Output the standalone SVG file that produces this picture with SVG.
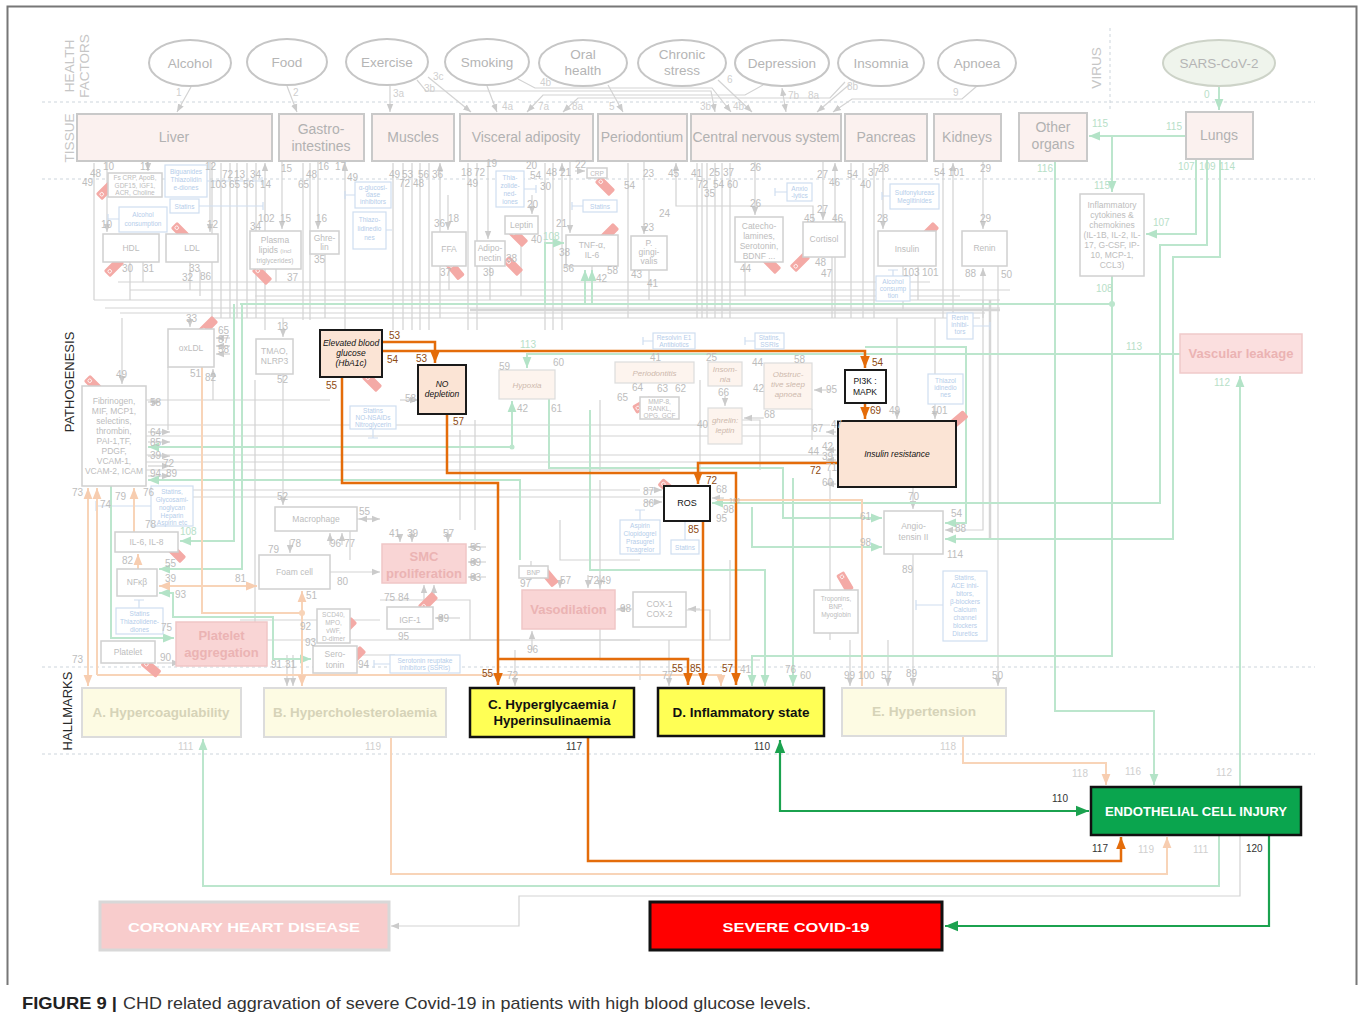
<svg xmlns="http://www.w3.org/2000/svg" width="1360" height="1022" viewBox="0 0 1360 1022">
<style>
text{font-family:"Liberation Sans",Arial,sans-serif}
.sec{font-size:13.5px;fill:#c6c6c6}
.secd{font-size:13px;fill:#2a2a2a}
.hf{fill:#fff;stroke:#c6c6c6;stroke-width:2}
.hft{font-size:13.5px;fill:#b5b5b5;text-anchor:middle}
.ts{fill:#fbf1ef;stroke:#c9c9c9;stroke-width:2}
.tst{font-size:14px;fill:#b2b2b2;text-anchor:middle}
.bx{fill:#fff;stroke:#d0d0d0;stroke-width:1.5}
.bxt{font-size:8.5px;fill:#bdbdbd;text-anchor:middle}
.sm{font-size:6.5px}
.bl{fill:#fff;stroke:#cfdef0;stroke-width:1.2}
.blt{font-size:6.5px;fill:#b5cdea;text-anchor:middle}
.pk{fill:#f9d5d5;stroke:#f0c6c6;stroke-width:1.5}
.pkt{font-weight:bold;font-size:13px;fill:#ebb3b3;text-anchor:middle}
.pc{fill:#fdf4ee;stroke:#dcdcdc;stroke-width:1.2}
.pct{font-size:8px;font-style:italic;fill:#cdb9ad;text-anchor:middle}
.n{font-size:10px;fill:#bdbdbd}
.nf{font-size:10px;fill:#cfcfcf}
.no{font-size:10px;fill:#8e4a10}
.nd{font-size:10px;fill:#333}
.ngl{font-size:10px;fill:#b7e0c8}
.g{fill:none;stroke:#d3d3d3;stroke-width:1.2}
.lg{fill:none;stroke:#bce6cd;stroke-width:2}
.lo{fill:none;stroke:#f8d4b8;stroke-width:2}
.or{fill:none;stroke:#e46c0a;stroke-width:2.5}
.gr{fill:none;stroke:#1ba24f;stroke-width:2.2}
.blu{fill:none;stroke:#cfdef0;stroke-width:1.2}
.dash{fill:none;stroke:#cdd5dc;stroke-width:1;stroke-dasharray:3 3}
.hm{font-weight:bold;font-size:13px;text-anchor:middle}
</style>
<defs>
<marker id="ag" viewBox="0 0 10 10" refX="10" refY="5" markerUnits="userSpaceOnUse" markerWidth="8" markerHeight="8" orient="auto-start-reverse"><path d="M0,1L10,5L0,9z" fill="#cbcbcb"/></marker>
<marker id="ao" viewBox="0 0 10 10" refX="10" refY="5" markerUnits="userSpaceOnUse" markerWidth="12" markerHeight="12" orient="auto-start-reverse"><path d="M0,1L10,5L0,9z" fill="#e46c0a"/></marker>
<marker id="agr" viewBox="0 0 10 10" refX="10" refY="5" markerUnits="userSpaceOnUse" markerWidth="13" markerHeight="13" orient="auto-start-reverse"><path d="M0,1L10,5L0,9z" fill="#1ba24f"/></marker>
<marker id="alg" viewBox="0 0 10 10" refX="10" refY="5" markerUnits="userSpaceOnUse" markerWidth="11" markerHeight="11" orient="auto-start-reverse"><path d="M0,1L10,5L0,9z" fill="#b3e3c7"/></marker>
<marker id="alo" viewBox="0 0 10 10" refX="10" refY="5" markerUnits="userSpaceOnUse" markerWidth="11" markerHeight="11" orient="auto-start-reverse"><path d="M0,1L10,5L0,9z" fill="#f7cdb0"/></marker>
<g id="tag"><rect x="-10" y="-4.5" width="20" height="9" rx="1.5" fill="#f4aaa6"/><circle cx="-6" cy="0" r="1.8" fill="none" stroke="#fff" stroke-width="0.8"/></g>
</defs>

<!-- frame -->
<path d="M7.5,985V6.5H1356.5V985" fill="none" stroke="#777" stroke-width="2"/>

<!-- section separators -->
<g id="sections">
<path class="dash" d="M42,102H1315M42,179H1315M42,667H1315M42,754H1315M1110,28V110"/>
<text class="sec" transform="translate(74,66) rotate(-90)" text-anchor="middle">HEALTH</text>
<text class="sec" transform="translate(89,66) rotate(-90)" text-anchor="middle">FACTORS</text>
<text class="sec" transform="translate(74,138) rotate(-90)" text-anchor="middle">TISSUE</text>
<text class="secd" transform="translate(74,382) rotate(-90)" text-anchor="middle">PATHOGENESIS</text>
<text class="secd" transform="translate(72,711) rotate(-90)" text-anchor="middle">HALLMARKS</text>
<text class="sec" transform="translate(1101,68) rotate(-90)" text-anchor="middle">VIRUS</text>
</g>

<g id="connectors">
<!-- health factor to tissue -->
<g marker-end="url(#ag)">
<path class="g" d="M191,87L177,112"/>
<path class="g" d="M287,86L297,112"/>
<path class="g" d="M390,86V112"/>
<path class="g" d="M417,80L426,91H711L715,112"/>
<path class="g" d="M428,77L471,112"/>
<path class="g" d="M487,86L497,112"/>
<path class="g" d="M518,79L535,88H712L731,112"/>
<path class="g" d="M608,85L623,112"/>
<path class="g" d="M718,80L752,112"/>
<path class="g" d="M763,85L745,95H543L527,112"/>
<path class="g" d="M782,88L786,112" marker-start="url(#ag)"/>
<path class="g" d="M845,82L830,98H578L563,112"/>
<path class="g" d="M850,84L817,112"/>
<path class="g" d="M977,86L962,99H852L833,112"/>
</g>
<path class="lg" d="M1219,86V110" marker-end="url(#alg)"/>

<!-- tissue verticals (arrows up into tissue) -->
<g marker-end="url(#ag)">
<path class="g" d="M94,300V163M212,318V163M221,318V163M230,318V163M237,318V163M247,318V163M256,318V163M265,330V163"/>
<path class="g" d="M303,320V163M310,320V163M345,330V163"/>
<path class="g" d="M393,330V163M403,330V163M412,330V163M420,330V163M429,330V163M440,318V163"/>
<path class="g" d="M468,330V163M477,330V163M545,330V163M553,330V163M562,330V163"/>
<path class="g" d="M628,318V163M697,318V163M702,318V163M707,318V163M715,318V163M722,318V163M730,318V163M835,318V163"/>
<path class="g" d="M851,318V163M863,318V163M874,318V163M943,318V163M953,318V163"/>
<path class="g" d="M813,222V206H676V163"/>
<path class="g" d="M107,161V232"/><path class="g" d="M148,161V171"/><path class="g" d="M210,161V232"/>
<path class="g" d="M282,161V229"/><path class="g" d="M318,161V229"/>
<path class="g" d="M448,195V230"/><path class="g" d="M488,161V239"/><path class="g" d="M532,195V214"/>
<path class="g" d="M570,161V233"/><path class="g" d="M575,171H585"/>
<path class="g" d="M644,161V234"/><path class="g" d="M755,161V215"/><path class="g" d="M823,161V220"/>
<path class="g" d="M883,161V229"/><path class="g" d="M983,161V229"/>
<path class="g" d="M983,318V268"/>
<path class="g" d="M122,318V384"/><path class="g" d="M190,318V327"/><path class="g" d="M283,318V337"/>
<path class="g" d="M283,374V505"/><path class="g" d="M213,400V369"/>
<path class="g" d="M897,318V419"/><path class="g" d="M935,318V419"/>
<path class="g" d="M913,487V509"/>
<path class="g" d="M983,300V530H945"/>
<path class="g" d="M998,266V686"/><path class="g" d="M913,554V686"/>
<path class="g" d="M888,640V686"/><path class="g" d="M850,640V686"/>
<path class="g" d="M287,655V686"/><path class="g" d="M293,655V686"/>
<path class="g" d="M515,650V686"/><path class="g" d="M669,640V686"/>
<path class="g" d="M357,519H380"/><path class="g" d="M330,572H380"/>
<path class="g" d="M424,600V585"/><path class="g" d="M434,600V585"/>
<path class="g" d="M486,547H468"/><path class="g" d="M486,562H468"/><path class="g" d="M486,577H468"/>
<path class="g" d="M460,618H435"/><path class="g" d="M632,609H617"/><path class="g" d="M700,609H688"/>
<path class="g" d="M400,535V542"/><path class="g" d="M412,530V542"/><path class="g" d="M448,530V542"/>
<path class="g" d="M290,540V553"/><path class="g" d="M330,545V533"/><path class="g" d="M342,545V533"/>
<path class="g" d="M560,580V588"/><path class="g" d="M588,575V588"/><path class="g" d="M600,575V588"/>
<path class="g" d="M532,650V631"/><path class="g" d="M531,561V580"/>
<path class="g" d="M148,402H160"/><path class="g" d="M148,432H170"/><path class="g" d="M148,442H170"/><path class="g" d="M148,456H170"/><path class="g" d="M148,466H170"/><path class="g" d="M148,476H170"/>
<path class="g" d="M230,338H216"/><path class="g" d="M230,346H216"/><path class="g" d="M230,354H216"/>
<path class="g" d="M400,400H418"/><path class="g" d="M372,519H359"/>
<path class="g" d="M836,432H826"/><path class="g" d="M836,450H826"/><path class="g" d="M836,460H826"/><path class="g" d="M836,484H826"/>
<path class="g" d="M830,390H814"/>
<path class="g" d="M725,396V406"/><path class="g" d="M764,418H744"/>
<path class="g" d="M645,490H662"/><path class="g" d="M645,502H662"/>
<path class="g" d="M724,498H712"/>
<path class="g" d="M157,663H180"/>
</g>
<!-- gray buses -->
<path class="g" d="M94,300H1000M118,282H930M130,290H1010M255,296H960M212,318H980M105,308H1000M120,313H985"/>
<path class="g" d="M146,400H330M146,425H830M146,436H838M146,455H838M146,462H838M146,470H660M170,497H664M190,490H640"/>
<path class="g" d="M350,520V560M168,367V430M255,380V640H315M240,620H380M356,655H395M340,640H520M380,600H470V640"/>
<path class="g" d="M460,430V520M475,420V530M600,400V470M700,380V480M742,420H760V470M812,409V440M830,470V640"/>
<path class="g" d="M560,520V560H640M686,610H710V640M730,560V640H560M616,610H625"/>
<path class="g" d="M130,255V300M143,262V282M190,262V290M200,270V296"/>
<path class="g" d="M276,269V282M325,254V318M449,266V290M490,266V300M521,234V296M592,266V282M649,270V300"/>
<path class="g" d="M745,262V296M832,257V318M903,266V310M918,266V300"/>
<path stroke="#d6d6d6" stroke-width="2.5" fill="none" d="M470,310H1000M990,300V540"/>
<path class="g" d="M600,480V660H760M460,640H640M640,660V680"/>
<path class="g" d="M1240,835V896H519V926H391" marker-end="url(#ag)"/>

<!-- blue inhibitor lines -->
<path class="blu" d="M207,181H262M262,177V185M199,206H263M263,202V210M119,219H108M108,214V224M355,195H345M345,191V199M386,230H392M524,189H536M536,185V193M583,206H572M572,202V210M787,192H775M775,188V196M890,196H882M882,192V200M893,276V270M888,270H898M653,341H643M643,337V345M755,341H745M745,337V345M973,326H990M990,322V330M943,605H916M916,600V610M163,506H96M96,501V511M139,608V600M134,600H144M640,520V510M635,510H645M685,540V520M390,664H374M374,660V668M373,429V438M368,438H378"/>

<!-- light green -->
<path class="lg" d="M1186,136H1089" marker-end="url(#alg)"/>
<path class="lg" d="M1112,136V192" marker-end="url(#alg)"/>
<path class="lg" d="M1196,159V234H1146" marker-end="url(#alg)"/>
<path class="lg" d="M1207,159V245H1160V503H712" marker-end="url(#alg)"/>
<path class="lg" d="M1220,159V257H1173V539H945" marker-end="url(#alg)"/>
<path class="lg" d="M1112,276V656H752V686" marker-end="url(#alg)"/>
<path class="lg" d="M1112,304H240"/>
<path class="lg" d="M1180,354H527V368" marker-end="url(#alg)"/>
<path class="lg" d="M545,304V243H564" marker-end="url(#alg)"/>
<path class="lg" stroke-width="3" d="M585,304V270" marker-end="url(#alg)"/>
<path class="lg" stroke-width="3" d="M592,304V270" marker-end="url(#alg)"/>
<path class="lg" d="M234,304V541H180" marker-end="url(#alg)"/>
<path class="lg" d="M242,304V569H159" marker-end="url(#alg)"/>
<path class="lg" d="M512,447H148" marker-end="url(#alg)"/>
<path class="lg" d="M512,447V401" marker-end="url(#alg)"/>
<path class="lg" d="M520,560V480H148" marker-end="url(#alg)"/>
<path class="lg" d="M111,486V638H174" marker-end="url(#alg)"/>
<path class="lg" d="M159,593H173V617H273V659H311" marker-start="url(#alg)" marker-end="url(#alg)"/>
<path class="lg" d="M549,399V468H783V518H882" marker-end="url(#alg)"/>
<path class="lg" d="M752,507V547H882" marker-end="url(#alg)"/>
<path class="lg" d="M590,410V570H765V686" marker-end="url(#alg)"/>
<path class="lg" d="M793,478V686" marker-end="url(#alg)"/>
<path class="lg" d="M865,347H966V523H945" marker-end="url(#alg)"/>
<path class="lg" d="M1055,161V711H1154V785" marker-end="url(#alg)"/>
<path class="lg" d="M1240,787V376" marker-end="url(#alg)"/>
<path class="lg" d="M1219,835V886H203V739" marker-end="url(#alg)"/>

<!-- light orange -->
<path class="lo" d="M97,675H721V686" marker-end="url(#alo)"/>
<path class="lo" d="M88,675V488" marker-end="url(#alo)"/>
<path class="lo" d="M88,675V686" marker-end="url(#alo)"/>
<path class="lo" d="M97,675V488" marker-end="url(#alo)"/>
<path class="lo" d="M134,532V488" marker-end="url(#alo)"/>
<path class="lo" d="M138,569V554" marker-end="url(#alo)"/>
<path class="lo" d="M159,586H257" marker-start="url(#alo)" marker-end="url(#alo)"/>
<path class="lo" d="M202,367V613H302"/>
<path class="lo" d="M302,675V591" marker-end="url(#alo)"/>
<path class="lo" d="M302,675V686" marker-end="url(#alo)"/>
<path class="lo" stroke-width="1.2" d="M717,500H862V686"/>
<path class="lo" d="M963,737V763H1106V785" marker-end="url(#alo)"/>
<path class="lo" d="M391,737V874H1167V837" marker-end="url(#alo)"/>
<circle cx="302" cy="613" r="3" fill="#f8d4b8"/>
<circle cx="1112" cy="304" r="3" fill="#bce6cd"/>
<circle cx="512" cy="447" r="2.5" fill="#bce6cd"/>

<!-- orange highlighted path -->
<path class="or" d="M382,342H435V363" marker-end="url(#ao)"/>
<path class="or" d="M382,351H865V368" marker-end="url(#ao)"/>
<path class="or" d="M342,377V483H498V685" marker-end="url(#ao)"/>
<path class="or" d="M498,659H688V685" marker-end="url(#ao)"/>
<path class="or" d="M447,414V473H736V685" marker-end="url(#ao)"/>
<path class="or" d="M838,463H698V484" marker-end="url(#ao)"/>
<path class="or" d="M703,521V685" marker-end="url(#ao)"/>
<path class="or" d="M865,403V419" marker-end="url(#ao)"/>
<path class="or" d="M588,737V861H1121V837" marker-end="url(#ao)"/>

<!-- strong green -->
<path class="gr" d="M780,740V811H1089" marker-start="url(#agr)" marker-end="url(#agr)"/>
<path class="gr" d="M1269,835V926H945" marker-end="url(#agr)"/>
</g>

<!-- inhibition tags -->
<g id="tags">
<use href="#tag" transform="translate(106,190) rotate(-45)"/>
<use href="#tag" transform="translate(181,232) rotate(45)"/>
<use href="#tag" transform="translate(114,267) rotate(-45)"/>
<use href="#tag" transform="translate(262,275) rotate(45)"/>
<use href="#tag" transform="translate(455,270) rotate(50)"/>
<use href="#tag" transform="translate(518,237) rotate(45)"/>
<use href="#tag" transform="translate(513,266) rotate(45)"/>
<use href="#tag" transform="translate(609,233) rotate(-45)"/>
<use href="#tag" transform="translate(605,186) rotate(45)"/>
<use href="#tag" transform="translate(771,264) rotate(45)"/>
<use href="#tag" transform="translate(800,262) rotate(-45)"/>
<use href="#tag" transform="translate(929,232) rotate(-45)"/>
<use href="#tag" transform="translate(208,326) rotate(-45)"/>
<use href="#tag" transform="translate(94,385) rotate(45)"/>
<use href="#tag" transform="translate(372,382) rotate(45)"/>
<use href="#tag" transform="translate(176,553) rotate(45)"/>
<use href="#tag" transform="translate(151,668) rotate(40)"/>
<use href="#tag" transform="translate(347,627) rotate(-45)"/>
<use href="#tag" transform="translate(356,656) rotate(-45)"/>
<use href="#tag" transform="translate(428,602) rotate(-45)"/>
<use href="#tag" transform="translate(643,405) rotate(-30)"/>
<use href="#tag" transform="translate(668,488) rotate(40)"/>
<use href="#tag" transform="translate(549,577) rotate(50)"/>
<use href="#tag" transform="translate(845,582) rotate(60)"/>
<use href="#tag" transform="translate(958,420) rotate(-40)"/>
</g>

<!-- health factors -->
<g id="alcohol"><ellipse class="hf" cx="190" cy="63" rx="41" ry="23"/><text class="hft" x="190" y="68">Alcohol</text></g>
<g id="food"><ellipse class="hf" cx="287" cy="62" rx="40" ry="23"/><text class="hft" x="287" y="67">Food</text></g>
<g id="exercise"><ellipse class="hf" cx="387" cy="62" rx="41" ry="23"/><text class="hft" x="387" y="67">Exercise</text></g>
<g id="smoking"><ellipse class="hf" cx="487" cy="62" rx="42" ry="23"/><text class="hft" x="487" y="67">Smoking</text></g>
<g id="oral-health"><ellipse class="hf" cx="583" cy="63" rx="44" ry="23"/><text class="hft" x="583" y="59">Oral</text><text class="hft" x="583" y="75">health</text></g>
<g id="chronic-stress"><ellipse class="hf" cx="682" cy="63" rx="44" ry="23"/><text class="hft" x="682" y="59">Chronic</text><text class="hft" x="682" y="75">stress</text></g>
<g id="depression"><ellipse class="hf" cx="782" cy="63" rx="47" ry="23"/><text class="hft" x="782" y="68">Depression</text></g>
<g id="insomnia"><ellipse class="hf" cx="881" cy="63" rx="43" ry="23"/><text class="hft" x="881" y="68">Insomnia</text></g>
<g id="apnoea"><ellipse class="hf" cx="977" cy="63" rx="39" ry="23"/><text class="hft" x="977" y="68">Apnoea</text></g>
<g id="sars-cov-2"><ellipse cx="1219" cy="63" rx="56" ry="23" fill="#eff4ec" stroke="#cdd3c8" stroke-width="2"/><text class="hft" x="1219" y="68">SARS-CoV-2</text></g>

<!-- tissues -->
<g id="liver"><rect class="ts" x="77" y="114" width="195" height="47"/><text class="tst" x="174" y="142">Liver</text></g>
<g id="gastro"><rect class="ts" x="279" y="114" width="85" height="47"/><text class="tst" x="321" y="134">Gastro-</text><text class="tst" x="321" y="151">intestines</text></g>
<g id="muscles"><rect class="ts" x="372" y="114" width="82" height="47"/><text class="tst" x="413" y="142">Muscles</text></g>
<g id="visceral"><rect class="ts" x="460" y="114" width="133" height="47"/><text class="tst" x="526" y="142">Visceral adiposity</text></g>
<g id="periodontium"><rect class="ts" x="598" y="114" width="89" height="47"/><text class="tst" x="642" y="142">Periodontium</text></g>
<g id="cns"><rect class="ts" x="691" y="114" width="150" height="47"/><text class="tst" x="766" y="142">Central nervous system</text></g>
<g id="pancreas"><rect class="ts" x="845" y="114" width="82" height="47"/><text class="tst" x="886" y="142">Pancreas</text></g>
<g id="kidneys"><rect class="ts" x="934" y="114" width="67" height="47"/><text class="tst" x="967" y="142">Kidneys</text></g>
<g id="other-organs"><rect class="ts" x="1019" y="113" width="68" height="48"/><text class="tst" x="1053" y="132">Other</text><text class="tst" x="1053" y="149">organs</text></g>
<g id="lungs"><rect class="ts" x="1186" y="112" width="67" height="47"/><text class="tst" x="1219" y="140">Lungs</text></g>

<!-- pathogenesis faded nodes -->
<g id="fs-crp"><rect class="bx" x="108" y="173" width="54" height="24"/><text class="bxt sm" x="135" y="180">Fs CRP, ApoB,</text><text class="bxt sm" x="135" y="187.5">GDF15, IGF1,</text><text class="bxt sm" x="135" y="195">ACR, Choline</text></g>
<g id="biguanides"><rect class="bl" x="165" y="165" width="42" height="32"/><text class="blt" x="186" y="174">Biguanides</text><text class="blt" x="186" y="182">Thiazolidin</text><text class="blt" x="186" y="190">e-diones</text></g>
<g id="statins-1"><rect class="bl" x="170" y="199" width="29" height="14"/><text class="blt" x="184.5" y="208.5">Statins</text></g>
<g id="alcohol-consumption-1"><rect class="bl" x="119" y="207" width="48" height="25"/><text class="blt" x="143" y="217">Alcohol</text><text class="blt" x="143" y="226">consumption</text></g>
<g id="hdl"><rect class="bx" x="103" y="234" width="56" height="28"/><text class="bxt" x="131" y="251">HDL</text></g>
<g id="ldl"><rect class="bx" x="166" y="234" width="52" height="28"/><text class="bxt" x="192" y="251">LDL</text></g>
<g id="plasma-lipids"><rect class="bx" x="250" y="231" width="51" height="38"/><text class="bxt" x="275" y="243">Plasma</text><text class="bxt" x="275" y="253">lipids <tspan font-size="6">(incl</tspan></text><text class="bxt sm" x="275" y="263">triglycerides)</text></g>
<g id="ghrelin"><rect class="bx" x="310" y="231" width="29" height="23"/><text class="bxt" x="324.5" y="241">Ghre-</text><text class="bxt" x="324.5" y="250">lin</text></g>
<g id="a-glucosidase"><rect class="bl" x="355" y="182" width="36" height="26"/><text class="blt" x="373" y="190">α-glucosi-</text><text class="blt" x="373" y="197">dase</text><text class="blt" x="373" y="204">inhibitors</text></g>
<g id="thiazo-1"><rect class="bl" x="353" y="212" width="33" height="37"/><text class="blt" x="369.5" y="222">Thiazo-</text><text class="blt" x="369.5" y="231">lidinedio</text><text class="blt" x="369.5" y="240">nes</text></g>
<g id="ffa"><rect class="bx" x="432" y="232" width="34" height="34"/><text class="bxt" x="449" y="252">FFA</text></g>
<g id="adiponectin"><rect class="bx" x="475" y="241" width="30" height="25"/><text class="bxt" x="490" y="251">Adipo-</text><text class="bxt" x="490" y="261">nectin</text></g>
<g id="leptin"><rect class="bx" x="505" y="216" width="33" height="18"/><text class="bxt" x="521.5" y="228">Leptin</text></g>
<g id="thiazo-2"><rect class="bl" x="496" y="171" width="28" height="36"/><text class="blt" x="510" y="180">Thia-</text><text class="blt" x="510" y="188">zolide-</text><text class="blt" x="510" y="196">ned-</text><text class="blt" x="510" y="204">iones</text></g>
<g id="crp"><rect class="bx" x="587" y="168" width="20" height="10"/><text class="bxt sm" x="597" y="176">CRP</text></g>
<g id="statins-2"><rect class="bl" x="583" y="200" width="34" height="12"/><text class="blt" x="600" y="208.5">Statins</text></g>
<g id="tnf"><rect class="bx" x="566" y="235" width="52" height="31"/><text class="bxt" x="592" y="248">TNF-α,</text><text class="bxt" x="592" y="258">IL-6</text></g>
<g id="p-gingivalis"><rect class="bx" x="631" y="236" width="36" height="34"/><text class="bxt" x="649" y="246">P.</text><text class="bxt" x="649" y="255">gingi-</text><text class="bxt" x="649" y="264">valis</text></g>
<g id="anxiolytics"><rect class="bl" x="787" y="183" width="25" height="18"/><text class="blt" x="799.5" y="191">Anxio</text><text class="blt" x="799.5" y="198">-lytics</text></g>
<g id="catecholamines"><rect class="bx" x="735" y="217" width="48" height="45"/><text class="bxt" x="759" y="229">Catecho-</text><text class="bxt" x="759" y="239">lamines,</text><text class="bxt" x="759" y="249">Serotonin,</text><text class="bxt" x="759" y="259">BDNF ...</text></g>
<g id="cortisol"><rect class="bx" x="803" y="222" width="42" height="35"/><text class="bxt" x="824" y="242">Cortisol</text></g>
<g id="sulfonylureas"><rect class="bl" x="890" y="184" width="49" height="25"/><text class="blt" x="914.5" y="195">Sulfonylureas</text><text class="blt" x="914.5" y="203">Meglitinides</text></g>
<g id="insulin"><rect class="bx" x="878" y="231" width="58" height="35"/><text class="bxt" x="907" y="252">Insulin</text></g>
<g id="alcohol-consumption-2"><rect class="bl" x="876" y="276" width="34" height="25"/><text class="blt" x="893" y="284">Alcohol</text><text class="blt" x="893" y="291">consump</text><text class="blt" x="893" y="298">tion</text></g>
<g id="renin"><rect class="bx" x="962" y="231" width="45" height="35"/><text class="bxt" x="984.5" y="251">Renin</text></g>
<g id="cytokines"><rect class="bx" x="1080" y="194" width="64" height="82"/>
<text class="bxt" font-size="7.5" x="1112" y="208">Inflammatory</text><text class="bxt" font-size="7.5" x="1112" y="218">cytokines &amp;</text><text class="bxt" font-size="7.5" x="1112" y="228">chemokines</text><text class="bxt" font-size="7.5" x="1112" y="238">(IL-1B, IL-2, IL-</text><text class="bxt" font-size="7.5" x="1112" y="248">17, G-CSF, IP-</text><text class="bxt" font-size="7.5" x="1112" y="258">10, MCP-1,</text><text class="bxt" font-size="7.5" x="1112" y="268">CCL3)</text></g>

<g id="oxldl"><rect class="bx" x="168" y="329" width="46" height="38"/><text class="bxt" x="191" y="351">oxLDL</text></g>
<g id="tmao"><rect class="bx" x="256" y="339" width="37" height="35"/><text class="bxt" x="274.5" y="354">TMAO,</text><text class="bxt" x="274.5" y="364">NLRP3</text></g>
<g id="fibrinogen"><rect class="bx" x="82" y="386" width="64" height="100"/>
<text class="bxt" x="114" y="404">Fibrinogen,</text><text class="bxt" x="114" y="414">MIF, MCP1,</text><text class="bxt" x="114" y="424">selectins,</text><text class="bxt" x="114" y="434">thrombin,</text><text class="bxt" x="114" y="444">PAI-1,TF,</text><text class="bxt" x="114" y="454">PDGF,</text><text class="bxt" x="114" y="464">VCAM-1,</text><text class="bxt" x="114" y="474">VCAM-2, ICAM</text></g>
<g id="statins-no-nsaids"><rect class="bl" x="350" y="406" width="46" height="23"/><text class="blt" x="373" y="413">Statins</text><text class="blt" x="373" y="420">NO-NSAIDs</text><text class="blt" x="373" y="427">Nitroglycerin</text></g>
<g id="statins-heparin"><rect class="bl" x="151" y="486" width="42" height="40"/><text class="blt" x="172" y="494">Statins,</text><text class="blt" x="172" y="502">Glycosami-</text><text class="blt" x="172" y="510">noglycan</text><text class="blt" x="172" y="518">Heparin</text><text class="blt" x="172" y="525">Aspirin etc</text></g>
<g id="macrophage"><rect class="bx" x="275" y="507" width="82" height="24"/><text class="bxt" x="316" y="522">Macrophage</text></g>
<g id="il6-il8"><rect class="bx" x="115" y="532" width="63" height="20"/><text class="bxt" x="146.5" y="545">IL-6, IL-8</text></g>
<g id="nfkb"><rect class="bx" x="117" y="569" width="40" height="27"/><text class="bxt" x="137" y="585">NFκβ</text></g>
<g id="foam-cell"><rect class="bx" x="259" y="555" width="71" height="34"/><text class="bxt" x="294.5" y="575">Foam cell</text></g>
<g id="smc"><rect class="pk" x="382" y="544" width="84" height="39"/><text class="pkt" font-size="14" x="424" y="561">SMC</text><text class="pkt" font-size="14" x="424" y="578">proliferation</text></g>
<g id="statins-thiazo"><rect class="bl" x="116" y="608" width="47" height="26"/><text class="blt" x="139.5" y="616">Statins</text><text class="blt" x="139.5" y="624">Thiazolidene-</text><text class="blt" x="139.5" y="632">diones</text></g>
<g id="platelet-aggregation"><rect class="pk" x="176" y="622" width="91" height="44"/><text class="pkt" x="221.5" y="640">Platelet</text><text class="pkt" x="221.5" y="657">aggregation</text></g>
<g id="platelet"><rect class="bx" x="101" y="641" width="54" height="22"/><text class="bxt" x="128" y="655">Platelet</text></g>
<g id="scd40"><rect class="bx" x="317" y="609" width="33" height="34"/><text class="bxt sm" x="333.5" y="617">SCD40,</text><text class="bxt sm" x="333.5" y="625">MPO,</text><text class="bxt sm" x="333.5" y="633">vWF,</text><text class="bxt sm" x="333.5" y="641">D-dimer</text></g>
<g id="serotonin"><rect class="bx" x="313" y="646" width="44" height="27"/><text class="bxt" x="335" y="657">Sero-</text><text class="bxt" x="335" y="668">tonin</text></g>
<g id="igf1"><rect class="bx" x="387" y="607" width="46" height="22"/><text class="bxt" font-size="13" x="410" y="623">IGF-1</text></g>
<g id="ssri"><rect class="bl" x="390" y="655" width="70" height="18"/><text class="blt" x="425" y="663">Serotonin reuptake</text><text class="blt" x="425" y="670">inhibitors (SSRIs)</text></g>
<g id="resolvin"><rect class="bl" x="653" y="333" width="42" height="16"/><text class="blt" x="674" y="340">Resolvin E1</text><text class="blt" x="674" y="347">Antibiotics</text></g>
<g id="statins-ssris"><rect class="bl" x="755" y="333" width="29" height="16"/><text class="blt" x="769.5" y="340">Statins,</text><text class="blt" x="769.5" y="347">SSRIs</text></g>
<g id="hypoxia"><rect class="pc" x="499" y="370" width="56" height="29"/><text class="pct" x="527" y="388">Hypoxia</text></g>
<g id="periodontitis"><rect class="pc" x="615" y="362" width="79" height="21"/><text class="pct" x="654.5" y="376">Periodontitis</text></g>
<g id="mmp"><rect class="bx" x="640" y="397" width="39" height="22"/><text class="bxt sm" x="659.5" y="404">MMP-8,</text><text class="bxt sm" x="659.5" y="411">RANKL,</text><text class="bxt sm" x="659.5" y="418">OPG, GCF</text></g>
<g id="insomnia-node"><rect class="pc" x="708" y="362" width="34" height="24"/><text class="pct" x="725" y="372">Insom-</text><text class="pct" x="725" y="382">nia</text></g>
<g id="osa"><rect class="pc" x="764" y="363" width="48" height="46"/><text class="pct" x="788" y="377">Obstruc-</text><text class="pct" x="788" y="387">tive sleep</text><text class="pct" x="788" y="397">apnoea</text></g>
<g id="ghrelin-leptin"><rect class="pc" x="708" y="408" width="34" height="36"/><text class="pct" x="725" y="423">ghrelin:</text><text class="pct" x="725" y="433">leptin</text></g>
<g id="aspirin"><rect class="bl" x="620" y="520" width="40" height="34"/><text class="blt" x="640" y="528">Aspirin</text><text class="blt" x="640" y="536">Clopidogrel</text><text class="blt" x="640" y="544">Prasugrel</text><text class="blt" x="640" y="552">Ticagrelor</text></g>
<g id="statins-3"><rect class="bl" x="671" y="540" width="28" height="14"/><text class="blt" x="685" y="549.5">Statins</text></g>
<g id="bnp"><rect class="bx" x="519" y="566" width="29" height="12"/><text class="bxt sm" x="533.5" y="574.5">BNP</text></g>
<g id="vasodilation"><rect class="pk" x="522" y="590" width="93" height="39"/><text class="pkt" x="568.5" y="614">Vasodilation</text></g>
<g id="cox"><rect class="bx" x="633" y="592" width="53" height="35"/><text class="bxt" x="659.5" y="607">COX-1</text><text class="bxt" x="659.5" y="617">COX-2</text></g>
<g id="troponins"><rect class="bx" x="814" y="590" width="44" height="43"/><text class="bxt sm" x="836" y="601">Troponins,</text><text class="bxt sm" x="836" y="609">BNP,</text><text class="bxt sm" x="836" y="617">Myoglobin</text></g>
<g id="renin-inhibitors"><rect class="bl" x="947" y="313" width="26" height="26"/><text class="blt" x="960" y="320">Renin</text><text class="blt" x="960" y="327">inhibi-</text><text class="blt" x="960" y="334">tors</text></g>
<g id="thiazo-3"><rect class="bl" x="928" y="374" width="35" height="30"/><text class="blt" x="945.5" y="383">Thiazol</text><text class="blt" x="945.5" y="390">idinedio</text><text class="blt" x="945.5" y="397">nes</text></g>
<g id="angiotensin"><rect class="bx" x="884" y="511" width="59" height="43"/><text class="bxt" x="913.5" y="529">Angio-</text><text class="bxt" x="913.5" y="540">tensin II</text></g>
<g id="statins-ace"><rect class="bl" x="943" y="571" width="44" height="70"/><text class="blt" x="965" y="580">Statins,</text><text class="blt" x="965" y="588">ACE inhi-</text><text class="blt" x="965" y="596">bitors,</text><text class="blt" x="965" y="604">β-blockers</text><text class="blt" x="965" y="612">Calcium</text><text class="blt" x="965" y="620">channel</text><text class="blt" x="965" y="628">blockers</text><text class="blt" x="965" y="636">Diuretics</text></g>
<g id="vascular-leakage"><rect x="1180" y="334" width="122" height="39" fill="#fbdfdf" stroke="#f0caca" stroke-width="1.5"/><text class="pkt" x="1241" y="358" fill="#e9b8b8">Vascular leakage</text></g>

<!-- highlighted nodes -->
<g id="elevated-blood-glucose"><rect x="320" y="330" width="62" height="47" fill="#fbe4d5" stroke="#1a1a1a" stroke-width="2"/><text x="351" y="346" font-size="8.5" font-style="italic" text-anchor="middle" fill="#111">Elevated blood</text><text x="351" y="356" font-size="8.5" font-style="italic" text-anchor="middle" fill="#111">glucose</text><text x="351" y="366" font-size="8.5" font-style="italic" text-anchor="middle" fill="#111">(HbA1c)</text></g>
<g id="no-depletion"><rect x="418" y="365" width="48" height="49" fill="#fbe4d5" stroke="#1a1a1a" stroke-width="2"/><text x="442" y="387" font-size="8.5" font-style="italic" text-anchor="middle" fill="#111">NO</text><text x="442" y="397" font-size="8.5" font-style="italic" text-anchor="middle" fill="#111">depletion</text></g>
<g id="pi3k-mapk"><rect x="845" y="370" width="41" height="33" fill="#fff" stroke="#1a1a1a" stroke-width="2"/><text x="865" y="384" font-size="8.5" text-anchor="middle" fill="#111">PI3K :</text><text x="865" y="395" font-size="8.5" text-anchor="middle" fill="#111">MAPK</text></g>
<g id="insulin-resistance"><rect x="838" y="421" width="118" height="66" fill="#fbe4d5" stroke="#1a1a1a" stroke-width="2"/><text x="897" y="457" font-size="8.5" font-style="italic" text-anchor="middle" fill="#111">Insulin resistance</text></g>
<g id="ros"><rect x="664" y="486" width="46" height="35" fill="#fff" stroke="#1a1a1a" stroke-width="2"/><text x="687" y="506" font-size="9" text-anchor="middle" fill="#111">ROS</text></g>

<!-- hallmarks -->
<g id="hypercoagulability"><rect x="82" y="688" width="159" height="49" fill="#fdfbe3" stroke="#dcdcdc" stroke-width="2"/><text class="hm" x="161" y="717" fill="#d6d3b8" textLength="137" lengthAdjust="spacingAndGlyphs">A.  Hypercoagulability</text></g>
<g id="hypercholesterolaemia"><rect x="264" y="688" width="182" height="49" fill="#fdfbe3" stroke="#dcdcdc" stroke-width="2"/><text class="hm" x="355" y="717" fill="#d6d3b8" textLength="164" lengthAdjust="spacingAndGlyphs">B.  Hypercholesterolaemia</text></g>
<g id="hyperglycaemia"><rect x="470" y="688" width="164" height="49" fill="#ffff55" stroke="#111" stroke-width="2.5"/><text class="hm" x="552" y="709" fill="#111" textLength="128" lengthAdjust="spacingAndGlyphs">C.  Hyperglycaemia /</text><text class="hm" x="552" y="725" fill="#111" textLength="117" lengthAdjust="spacingAndGlyphs">Hyperinsulinaemia</text></g>
<g id="inflammatory-state"><rect x="658" y="688" width="166" height="48" fill="#ffff55" stroke="#111" stroke-width="2.5"/><text class="hm" x="741" y="717" fill="#111" textLength="137" lengthAdjust="spacingAndGlyphs">D.  Inflammatory state</text></g>
<g id="hypertension"><rect x="842" y="688" width="164" height="48" fill="#fdfbe3" stroke="#dcdcdc" stroke-width="2"/><text class="hm" x="924" y="716" fill="#d6d3b8" textLength="104" lengthAdjust="spacingAndGlyphs">E.  Hypertension</text></g>

<!-- outcomes -->
<g id="endothelial-cell-injury"><rect x="1091" y="787" width="210" height="48" fill="#0aa54e" stroke="#111" stroke-width="2.5"/><text class="hm" x="1196" y="816" fill="#fff" textLength="182" lengthAdjust="spacingAndGlyphs">ENDOTHELIAL CELL INJURY</text></g>
<g id="severe-covid"><rect x="650" y="902" width="292" height="48" fill="#ff0000" stroke="#111" stroke-width="3"/><text class="hm" font-size="16" x="796" y="932" fill="#fff" textLength="147" lengthAdjust="spacingAndGlyphs">SEVERE COVID-19</text></g>
<g id="chd"><rect x="100" y="902" width="289" height="48" fill="#f8cccc" stroke="#d8d8d8" stroke-width="3"/><text class="hm" font-size="16" x="244" y="932" fill="#fff" textLength="232" lengthAdjust="spacingAndGlyphs">CORONARY HEART DISEASE</text></g>

<!-- labels -->
<g id="labels">
<g class="nf">
<text x="176" y="96">1</text><text x="293" y="96">2</text><text x="393" y="97">3a</text><text x="433" y="80">3c</text><text x="424" y="92">3b</text>
<text x="502" y="110">4a</text><text x="540" y="86">4b</text><text x="538" y="110">7a</text><text x="572" y="110">8a</text><text x="609" y="110">5</text>
<text x="700" y="110">3b</text><text x="733" y="110">4b</text><text x="727" y="83">6</text><text x="788" y="99">7b</text><text x="808" y="99">8a</text><text x="847" y="90">8b</text><text x="953" y="96">9</text>
</g>
<text class="ngl" x="1204" y="98">0</text>
<text class="ngl" x="1166" y="130">115</text><text class="ngl" x="1092" y="127">115</text><text class="ngl" x="1094" y="189">115</text>
<text class="ngl" x="1153" y="226">107</text><text class="ngl" x="1178" y="170">107</text><text class="ngl" x="1199" y="170">109</text><text class="ngl" x="1219" y="170">114</text>
<text class="ngl" x="1096" y="292">108</text><text class="ngl" x="1037" y="172">116</text><text class="ngl" x="1126" y="350">113</text><text class="ngl" x="520" y="348">113</text>
<text class="ngl" x="543" y="240">108</text><text class="ngl" x="180" y="535">108</text>
<text class="ngl" x="1214" y="386">112</text>
<g class="n">
<text x="82" y="186">49</text><text x="90" y="177">48</text><text x="103" y="170">10</text><text x="140" y="170">11</text><text x="205" y="170">12</text>
<text x="222" y="178">72</text><text x="234" y="178">13</text><text x="250" y="178">34</text><text x="210" y="188">103</text><text x="229" y="188">65</text><text x="243" y="188">56</text><text x="260" y="188">14</text>
<text x="101" y="228">10</text><text x="207" y="228">12</text><text x="122" y="272">30</text><text x="143" y="272">31</text><text x="189" y="272">33</text><text x="182" y="281">32</text><text x="200" y="280">86</text>
<text x="250" y="230">34</text><text x="258" y="222">102</text><text x="280" y="222">15</text><text x="316" y="222">16</text><text x="314" y="263">35</text><text x="287" y="281">37</text>
<text x="281" y="172">15</text><text x="306" y="178">48</text><text x="298" y="188">65</text><text x="318" y="170">16</text><text x="335" y="170">17</text><text x="347" y="181">49</text>
<text x="389" y="178">49</text><text x="402" y="178">53</text><text x="418" y="178">56</text><text x="432" y="178">36</text><text x="399" y="187">72</text><text x="413" y="187">48</text>
<text x="448" y="222">18</text><text x="434" y="227">36</text><text x="440" y="276">37</text>
<text x="461" y="176">18</text><text x="474" y="176">72</text><text x="486" y="167">19</text><text x="467" y="187">49</text><text x="526" y="169">20</text><text x="530" y="179">54</text><text x="546" y="176">48</text><text x="560" y="176">21</text>
<text x="540" y="190">30</text><text x="575" y="168">22</text><text x="527" y="208">20</text><text x="531" y="243">40</text><text x="506" y="262">38</text><text x="483" y="276">39</text><text x="559" y="256">38</text><text x="556" y="227">21</text>
<text x="563" y="272">56</text><text x="596" y="282">42</text><text x="607" y="274">58</text>
<text x="624" y="189">54</text><text x="643" y="177">23</text><text x="668" y="177">45</text><text x="643" y="231">23</text><text x="631" y="278">43</text><text x="647" y="287">41</text><text x="659" y="217">24</text>
<text x="691" y="177">41</text><text x="697" y="188">72</text><text x="704" y="197">35</text><text x="709" y="176">25</text><text x="723" y="176">37</text><text x="713" y="188">54</text><text x="727" y="188">60</text>
<text x="750" y="171">26</text><text x="750" y="207">26</text><text x="740" y="272">44</text><text x="817" y="178">27</text><text x="829" y="186">46</text><text x="817" y="213">27</text><text x="804" y="222">45</text><text x="832" y="222">46</text>
<text x="815" y="266">48</text><text x="821" y="277">47</text>
<text x="847" y="178">54</text><text x="860" y="188">40</text><text x="868" y="176">37</text><text x="878" y="172">28</text><text x="877" y="222">28</text><text x="903" y="276">103</text><text x="922" y="276">101</text>
<text x="934" y="176">54</text><text x="948" y="176">101</text><text x="980" y="172">29</text><text x="980" y="222">29</text><text x="965" y="277">88</text><text x="1001" y="278">50</text>
<text x="186" y="322">33</text><text x="218" y="334">65</text><text x="218" y="343">87</text><text x="218" y="353">58</text><text x="277" y="330">13</text><text x="190" y="377">51</text><text x="205" y="381">82</text><text x="277" y="383">52</text>
<text x="116" y="378">49</text><text x="150" y="406">58</text><text x="150" y="436">64</text><text x="150" y="446">85</text><text x="150" y="459">39</text><text x="163" y="467">72</text><text x="150" y="477">94</text><text x="166" y="477">89</text>
<text x="72" y="496">73</text><text x="100" y="508">74</text><text x="115" y="500">79</text><text x="143" y="496">76</text><text x="145" y="528">78</text><text x="277" y="500">52</text><text x="359" y="515">55</text>
<text x="122" y="564">82</text><text x="165" y="567">55</text><text x="165" y="582">39</text><text x="235" y="582">81</text><text x="175" y="598">93</text>
<text x="268" y="553">79</text><text x="290" y="547">78</text><text x="330" y="547">96</text><text x="344" y="547">77</text><text x="389" y="537">41</text><text x="407" y="537">39</text><text x="443" y="537">57</text>
<text x="337" y="585">80</text><text x="306" y="599">51</text><text x="161" y="631">75</text><text x="300" y="630">92</text><text x="305" y="646">93</text><text x="384" y="601">75</text><text x="398" y="601">84</text><text x="398" y="640">95</text><text x="438" y="622">89</text>
<text x="160" y="661">90</text><text x="271" y="668">91</text><text x="285" y="668">31</text><text x="358" y="668">94</text><text x="72" y="663">73</text><text x="405" y="402">58</text>
<text x="470" y="551">55</text><text x="470" y="566">89</text><text x="470" y="581">83</text>
<text x="499" y="370">59</text><text x="553" y="366">60</text><text x="517" y="412">42</text><text x="551" y="412">61</text>
<text x="650" y="361">41</text><text x="632" y="391">64</text><text x="657" y="392">63</text><text x="675" y="392">62</text><text x="617" y="401">65</text><text x="706" y="361">25</text><text x="752" y="366">44</text><text x="794" y="363">58</text>
<text x="753" y="392">42</text><text x="718" y="396">66</text><text x="764" y="418">68</text><text x="697" y="428">40</text><text x="831" y="428">47</text><text x="812" y="432">67</text>
<text x="808" y="455">44</text><text x="822" y="450">42</text><text x="822" y="460">39</text><text x="826" y="471">71</text><text x="822" y="486">60</text><text x="826" y="393">95</text>
<text x="643" y="495">87</text><text x="643" y="507">86</text><text x="716" y="493">68</text><text x="729" y="503" font-size="7">101</text><text x="723" y="513">98</text><text x="716" y="522">95</text>
<text x="860" y="520">61</text><text x="860" y="546">98</text><text x="908" y="500">70</text><text x="951" y="517">54</text><text x="955" y="532">88</text><text x="947" y="558">114</text><text x="902" y="573">89</text>
<text x="520" y="587">97</text><text x="560" y="584">57</text><text x="588" y="584">72</text><text x="600" y="584">49</text><text x="527" y="653">96</text><text x="620" y="612">98</text>
<text x="889" y="414">49</text><text x="931" y="414">101</text>
<text x="507" y="679">72</text><text x="662" y="679">77</text><text x="740" y="673">41</text><text x="785" y="673">76</text><text x="800" y="679">60</text>
<text x="844" y="679">99</text><text x="858" y="679">100</text><text x="881" y="679">57</text><text x="906" y="677">89</text><text x="992" y="679">50</text>
</g>
<g class="nf">
<text x="178" y="750">111</text><text x="365" y="750">119</text><text x="940" y="750">118</text><text x="1072" y="777">118</text><text x="1125" y="775">116</text><text x="1216" y="776">112</text>
<text x="1138" y="853">119</text><text x="1193" y="853">111</text>
</g>
<text class="no" x="389" y="339">53</text><text class="no" x="416" y="362">53</text><text class="no" x="387" y="363">54</text><text class="no" x="872" y="366">54</text>
<text class="no" x="326" y="389">55</text><text class="no" x="482" y="677">55</text><text class="no" x="672" y="672">55</text>
<text class="no" x="453" y="425">57</text><text class="no" x="722" y="672">57</text>
<text class="no" x="810" y="474">72</text><text class="no" x="706" y="484">72</text>
<text class="no" x="688" y="533">85</text><text class="no" x="690" y="672">85</text><text class="no" x="870" y="414">69</text>
<text class="nd" x="566" y="750">117</text><text class="nd" x="1092" y="852">117</text>
<text class="nd" x="754" y="750">110</text><text class="nd" x="1052" y="802">110</text><text class="nd" x="1246" y="852">120</text>
</g>

<!-- caption -->
<g id="caption">
<text x="22" y="1009" font-size="17" font-weight="bold" fill="#222" textLength="95" lengthAdjust="spacingAndGlyphs">FIGURE 9 |</text>
<text x="123" y="1009" font-size="17" fill="#333" textLength="688" lengthAdjust="spacingAndGlyphs">CHD related aggravation of severe Covid-19 in patients with high blood glucose levels.</text>
</g>
</svg>
